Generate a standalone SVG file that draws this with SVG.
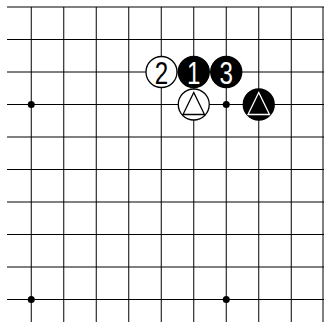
<svg xmlns="http://www.w3.org/2000/svg" width="324" height="322" viewBox="0 0 324 322">
<style>
.grid line{stroke:#000;stroke-width:1}
.hoshi{fill:#000}
.w{fill:#fff;stroke:#000;stroke-width:1.3}
.b{fill:#000;stroke:#000;stroke-width:1.3}
.num{font-family:"Liberation Sans",Arial,sans-serif;font-size:31px;text-anchor:middle}
.tw{fill:none;stroke:#000;stroke-width:1.3}
.tb{fill:none;stroke:#fff;stroke-width:1.3}
</style>
<rect width="324" height="322" fill="#fff"/>
<g id="grid" class="grid">
<line x1="7" y1="7" x2="324" y2="7"/>
<line x1="7" y1="39.5" x2="324" y2="39.5"/>
<line x1="7" y1="72" x2="324" y2="72"/>
<line x1="7" y1="104.5" x2="324" y2="104.5"/>
<line x1="7" y1="137" x2="324" y2="137"/>
<line x1="7" y1="169.5" x2="324" y2="169.5"/>
<line x1="7" y1="202" x2="324" y2="202"/>
<line x1="7" y1="234.5" x2="324" y2="234.5"/>
<line x1="7" y1="267" x2="324" y2="267"/>
<line x1="7" y1="299.5" x2="324" y2="299.5"/>
<line x1="31.25" y1="7" x2="31.25" y2="322"/>
<line x1="63.75" y1="7" x2="63.75" y2="322"/>
<line x1="96.25" y1="7" x2="96.25" y2="322"/>
<line x1="128.75" y1="7" x2="128.75" y2="322"/>
<line x1="161.25" y1="7" x2="161.25" y2="322"/>
<line x1="193.75" y1="7" x2="193.75" y2="322"/>
<line x1="226.25" y1="7" x2="226.25" y2="322"/>
<line x1="258.75" y1="7" x2="258.75" y2="322"/>
<line x1="291.25" y1="7" x2="291.25" y2="322"/>
<line x1="323" y1="7" x2="323" y2="322"/>
</g>
<g id="hoshi">
<circle class="hoshi" cx="31.25" cy="104.5" r="3.5"/>
<circle class="hoshi" cx="226.25" cy="104.5" r="3.5"/>
<circle class="hoshi" cx="31.25" cy="299.5" r="3.5"/>
<circle class="hoshi" cx="226.25" cy="299.5" r="3.5"/>
</g>
<g id="stone-2">
<circle class="w" cx="161.5" cy="72" r="15.5"/>
<text class="num" fill="#000" transform="translate(161.5 83.5) scale(0.78 1)">2</text>
</g>
<g id="stone-1">
<circle class="b" cx="193.75" cy="72" r="15.5"/>
<text class="num" fill="#fff" transform="translate(193.75 83.5) scale(0.78 1)">1</text>
</g>
<g id="stone-3">
<circle class="b" cx="226.25" cy="72" r="15.5"/>
<text class="num" fill="#fff" transform="translate(226.25 83.5) scale(0.78 1)">3</text>
</g>
<g id="stone-white-triangle">
<circle class="w" cx="193.75" cy="104.5" r="15.5"/>
<polygon class="tw" points="193.75,92.5 183,114.5 204.5,114.5"/>
</g>
<g id="stone-black-triangle">
<circle class="b" cx="258.75" cy="104.5" r="15.5"/>
<polygon class="tb" points="258.75,92.5 248,114.5 269.5,114.5"/>
</g>
</svg>
